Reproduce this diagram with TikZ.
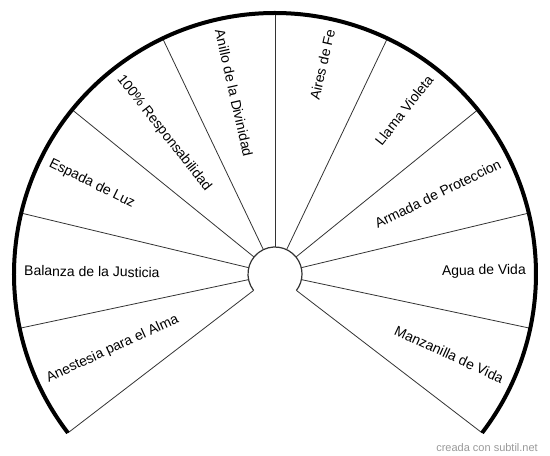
\documentclass[tikz,border=0pt]{standalone}
\usepackage{fontspec}
\setmainfont{Liberation Sans}
\usetikzlibrary{calc}
\newcommand\lblfont{\fontsize{14}{16}\selectfont}
\newcommand\wmfont{\fontsize{11}{13}\selectfont}
\tikzset{
  rim/.style={line width=4pt, black},
  hub/.style={line width=1.2pt, black!80},
  spoke/.style={line width=0.8pt, black!80},
  lblL/.style={font=\lblfont, inner sep=0pt, anchor=west},
  lblR/.style={font=\lblfont, inner sep=0pt, anchor=east},
  wm/.style={font=\wmfont, text=black!40, inner sep=0pt, anchor=base east}
}
\begin{document}
\begin{tikzpicture}[x=1pt,y=1pt]
\useasboundingbox (0,0) rectangle (550,456);
\coordinate (c) at (275,182);
% spokes
\foreach \k in {0,...,10}{
  \pgfmathsetmacro\ang{217.5-25.5*\k}
  \draw[spoke] ($(c)+(\ang:27)$) -- ($(c)+(\ang:261)$);
}
% rim and hub
\draw[rim] ($(c)+(217.5:261)$) arc[start angle=217.5, end angle=-37.5, radius=261pt];
\draw[hub] ($(c)+(217.5:27)$) arc[start angle=217.5, end angle=-37.5, radius=27pt];
% labels
\node[lblL, rotate=24.75]  (l1)  at ($(c)+(204.75:251)$) {Anestesia para el Alma};
\node[lblL, rotate=-0.75]  (l2)  at ($(c)+(179.25:251)$) {Balanza de la Justicia};
\node[lblL, rotate=-26.25] (l3)  at ($(c)+(153.75:251)$) {Espada de Luz};
\node[lblL, rotate=-51.75] (l4)  at ($(c)+(128.25:251)$) {100\% Responsabilidad};
\node[lblL, rotate=-77.25] (l5)  at ($(c)+(102.75:251)$) {Anillo de la Divinidad};
\node[lblR, rotate=77.25]  (l6)  at ($(c)+(77.25:251)$)  {Aires de Fe};
\node[lblR, rotate=51.75]  (l7)  at ($(c)+(51.75:251)$)  {Llama Violeta};
\node[lblR, rotate=26.25]  (l8)  at ($(c)+(26.25:251)$)  {Armada de Proteccion};
\node[lblR, rotate=0.75]   (l9)  at ($(c)+(0.75:251)$)   {Agua de Vida};
\node[lblR, rotate=-24.75] (l10) at ($(c)+(-24.75:251)$) {Manzanilla de Vida};
\node[wm] (wm) at (538,5) {creada con subtil.net};
\end{tikzpicture}
\end{document}
